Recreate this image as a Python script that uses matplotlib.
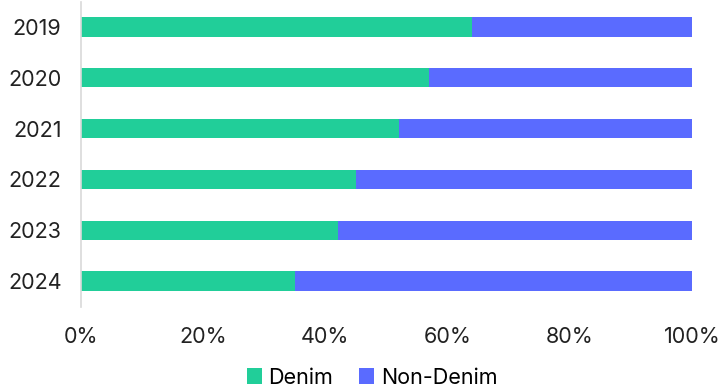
import matplotlib
matplotlib.use("Agg")
import matplotlib.pyplot as plt
from matplotlib.ticker import PercentFormatter

years = ["2019", "2020", "2021", "2022", "2023", "2024"]
denim = [64, 57, 52, 45, 42, 35]
non_denim = [100 - d for d in denim]

GREEN = "#21CE99"
BLUE = "#5A6BFF"

plt.rcParams["font.family"] = ["Inter", "DejaVu Sans"]

fig = plt.figure(figsize=(7.2, 3.9), dpi=100)
ax = fig.add_axes([0.1125, 0.214, 0.8486, 0.782])

pos = list(range(len(years)))
ax.barh(pos, denim, height=0.38, color=GREEN, label="Denim")
ax.barh(pos, non_denim, left=denim, height=0.38, color=BLUE, label="Non-Denim")

ax.set_ylim(len(years) - 0.5, -0.5)
ax.set_xlim(0, 100)
ax.set_yticks(pos)
ax.set_yticklabels(years)
ax.set_xticks([0, 20, 40, 60, 80, 100])
ax.xaxis.set_major_formatter(PercentFormatter(decimals=0))

for side in ["top", "right", "bottom"]:
    ax.spines[side].set_visible(False)
ax.spines["left"].set_color("#d9d9d9")
ax.spines["left"].set_linewidth(1.2)
ax.tick_params(axis="both", length=0, labelsize=15.5, colors="#222222")
ax.tick_params(axis="x", pad=15)
ax.tick_params(axis="y", pad=14)

fig.legend(loc="center", bbox_to_anchor=(0.517, 0.032), ncol=2, frameon=False,
           fontsize=15.5, handlelength=0.7, handleheight=0.7, handletextpad=0.3,
           columnspacing=1.2, borderpad=0)

fig.savefig("out.png", dpi=100)
